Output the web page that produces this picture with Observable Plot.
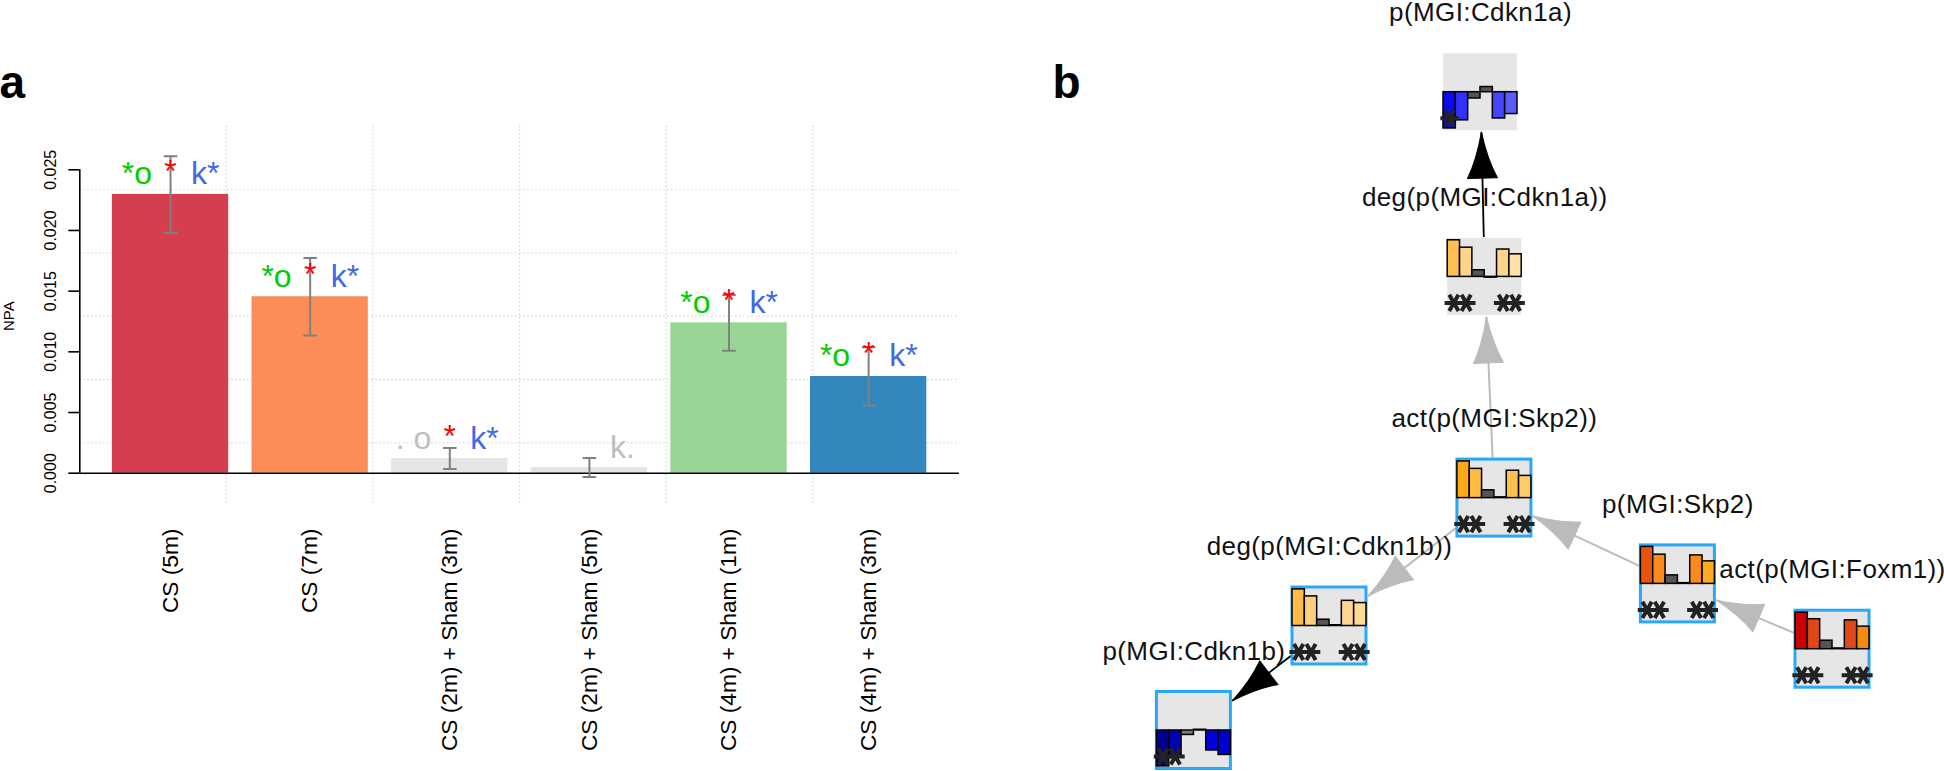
<!DOCTYPE html>
<html><head><meta charset="utf-8">
<script src="https://cdn.jsdelivr.net/npm/d3@7"></script>
<script src="https://cdn.jsdelivr.net/npm/@observablehq/plot@0.6"></script>
<style>
html,body{margin:0;padding:0;background:#fff;}
#wrap{position:relative;width:1944px;height:771px;overflow:hidden;background:#fff;}
#pa{position:absolute;left:0;top:0;width:1000px;height:771px;}
#pb{position:absolute;left:1000px;top:0;width:944px;height:771px;}
svg{max-width:none !important;}
</style></head><body>
<div id="wrap"><div id="pa"></div><div id="pb"></div></div>
<script>
// ================= DATA: panel a =================
const conditions = ["CS (5m)", "CS (7m)", "CS (2m) + Sham (3m)", "CS (2m) + Sham (5m)", "CS (4m) + Sham (1m)", "CS (4m) + Sham (3m)"];
const npa    = [0.02297, 0.01454, 0.00121, 0.00047, 0.01239, 0.00797];
const npaSem = [0.00315, 0.00320, 0.00087, 0.00078, 0.00230, 0.00240];
const oLabels   = ["*o", "*o", ". o", "", "*o", "*o"];
const midLabels = ["*", "*", "*", "", "*", "*"];
const kLabels   = ["k*", "k*", "k*", "k.", "k*", "k*"];
const yTicks = [0, 0.005, 0.010, 0.015, 0.020, 0.025];

// ================= DATA: panel b (graph) =================
const nodeNames = ["p(MGI:Cdkn1a)", "deg(p(MGI:Cdkn1a))", "act(p(MGI:Skp2))", "deg(p(MGI:Cdkn1b))", "p(MGI:Cdkn1b)", "p(MGI:Skp2)", "act(p(MGI:Foxm1))"];
// layout coordinates (graph layout units)
const nodeLX = [4.800, 4.842, 4.939, 3.290, 1.934, 6.774, 8.320];
const nodeLY = [0.917, 2.764, 4.976, 6.255, 7.300, 5.834, 6.487];
const nodeHighlighted = [false, false, true, true, true, true, true];
// per-node values for the six conditions (relative)
const nodeValues = [
  [-0.98, -0.76, -0.17, 0.14, -0.71, -0.59],
  [0.99, 0.79, 0.18, -0.02, 0.74, 0.61],
  [0.99, 0.79, 0.21, 0.02, 0.74, 0.60],
  [0.99, 0.80, 0.17, 0.02, 0.68, 0.62],
  [-0.97, -0.70, -0.12, 0.02, -0.54, -0.66],
  [1.00, 0.79, 0.23, 0.02, 0.77, 0.61],
  [0.99, 0.81, 0.23, 0.02, 0.78, 0.61]
];
const nodeSig = [
  [1, 0, 0, 0, 0, 0],
  [1, 1, 0, 0, 1, 1],
  [1, 1, 0, 0, 1, 1],
  [1, 1, 0, 0, 1, 1],
  [1, 1, 0, 0, 0, 0],
  [1, 1, 0, 0, 1, 1],
  [1, 1, 0, 0, 1, 1]
];
const edgeSource   = ["deg(p(MGI:Cdkn1a))", "act(p(MGI:Skp2))", "act(p(MGI:Skp2))", "deg(p(MGI:Cdkn1b))", "p(MGI:Skp2)", "act(p(MGI:Foxm1))"];
const edgeTarget   = ["p(MGI:Cdkn1a)", "deg(p(MGI:Cdkn1a))", "deg(p(MGI:Cdkn1b))", "p(MGI:Cdkn1b)", "act(p(MGI:Skp2))", "p(MGI:Skp2)"];
const edgeRelation = ["decreases", "increases", "increases", "decreases", "increases", "increases"];

// ================= STYLES =================
const FONT = '"Liberation Sans", Arial, Helvetica, sans-serif';
const barColors = ["#d53e4f", "#fc8d59", "#e5e5e5", "#e5e5e5", "#99d594", "#3288bd"];
const miniColors = [
  ["#0b0bee", "#3030ff", "#555555", "#555555", "#4444ff", "#5b5bff"],
  ["#fdbf50", "#fed38a", "#555555", "#555555", "#fed38a", "#fee0a8"],
  ["#ffa817", "#ffbc40", "#555555", "#555555", "#ffc04e", "#ffcc6c"],
  ["#fdbb46", "#fecf7e", "#555555", "#555555", "#fed58c", "#feda96"],
  ["#000092", "#0000b8", "#7a7a7a", "#555555", "#0000dd", "#0000cc"],
  ["#e8540e", "#fb8c1c", "#555555", "#555555", "#fb8c1c", "#ffab22"],
  ["#cc0000", "#e0481a", "#555555", "#555555", "#e0481a", "#f88a10"]
];
const relColor = {increases: "#bbbbbb", decreases: "#000000"};
const relWidth = {increases: 2, decreases: 1.8};

// ================= PANEL A =================
// R barplot geometry: width 1, space 0.2
const rows = conditions.map((c, i) => ({
  cond: c, i, v: npa[i], sem: npaSem[i],
  x1: 0.2 + 1.2 * i, x2: 1.2 + 1.2 * i, xc: 0.7 + 1.2 * i,
  o: oLabels[i], m: midLabels[i], k: kLabels[i]
}));
const centers = rows.map(d => d.xc);
const xDom = [-0.08, 7.48];
const yDom = [-0.00271, 0.02859];
const gridX = d3.range(1, 6).map(k => xDom[0] + k * (xDom[1] - xDom[0]) / 6);
const gridY = d3.range(1, 6).map(k => yDom[0] + k * (yDom[1] - yDom[0]) / 6);
const lineShape = {draw(ctx, l) { ctx.moveTo(0, 0); ctx.lineTo(0, -l); }};

const plotA = Plot.plot({
  width: 1000, height: 771,
  marginLeft: 79.3, marginRight: 41.1, marginTop: 125.7, marginBottom: 265.4,
  style: {fontFamily: FONT, background: "#fff", overflow: "visible"},
  color: {type: "identity"},
  x: {domain: xDom},
  y: {domain: yDom},
  marks: [
    Plot.ruleX(gridX, {stroke: "#c4c4c4", strokeWidth: 1.2, strokeDasharray: "1,3"}),
    Plot.ruleY(gridY, {stroke: "#c4c4c4", strokeWidth: 1.2, strokeDasharray: "1,3"}),
    Plot.rect(rows, {x1: "x1", x2: "x2", y1: () => 0, y2: "v", fill: d => barColors[d.i]}),
    Plot.ruleY([0], {stroke: "#000", strokeWidth: 1.6}),
    Plot.ruleX([xDom[0]], {y1: () => yTicks[0], y2: () => yTicks[yTicks.length - 1], stroke: "#000", strokeWidth: 1.6}),
    Plot.axisY({ticks: yTicks, anchor: "left", tickSize: 11, tickPadding: 13.3, tickRotate: -90,
      textAnchor: "middle", lineAnchor: "bottom",
      tickFormat: d3.format(".3f"), fontSize: 16, label: null, strokeWidth: 1.6, stroke: "#000", fill: "#000"}),
    Plot.axisX({ticks: centers, anchor: "bottom", tickSize: 0, tickPadding: 22.5, tickRotate: -90,
      textAnchor: "end", lineAnchor: "middle",
      tickFormat: d => conditions[Math.round((d - 0.7) / 1.2)], fontSize: 22.7, label: null, fill: "#000"}),
    Plot.text(["NPA"], {frameAnchor: "left", dx: -70.3, rotate: -90, fontSize: 15, textAnchor: "middle", lineAnchor: "middle", fill: "#000"}),
    // error bars
    Plot.ruleX(rows, {x: "xc", y1: d => d.v - d.sem, y2: d => d.v + d.sem, stroke: "#808080", strokeWidth: 2}),
    Plot.vector(rows, {x: "xc", y: d => d.v - d.sem, rotate: 90, length: 12, anchor: "middle", shape: lineShape, stroke: "#808080", strokeWidth: 2}),
    Plot.vector(rows, {x: "xc", y: d => d.v + d.sem, rotate: 90, length: 12, anchor: "middle", shape: lineShape, stroke: "#808080", strokeWidth: 2}),
    // significance annotations
    Plot.text(rows, {x: "xc", y: "v", text: "o", fill: d => d.o.includes("*") ? "#00cd00" : "#bebebe",
      textAnchor: "end", lineAnchor: "bottom", dx: -18.5, dy: -10, fontSize: 32}),
    Plot.text(rows, {x: "xc", y: "v", text: "m", fill: "#ff0000",
      textAnchor: "middle", lineAnchor: "bottom", dy: -12, fontSize: 32}),
    Plot.text(rows, {x: "xc", y: "v", text: "k", fill: d => d.k.includes("*") ? "#4169e1" : "#bebebe",
      textAnchor: "start", lineAnchor: "bottom", dx: 20.5, dy: -10, fontSize: 32}),
    Plot.text(["a"], {frameAnchor: "top-left", dx: -80.3, dy: -28.7, lineAnchor: "bottom", textAnchor: "start", fontSize: 46, fontWeight: "bold", fill: "#000"})
  ]
});
document.getElementById("pa").appendChild(plotA);

// ================= PANEL B =================
const BW = 0.74, BH = 0.77, HALF = 0.37;
const nodes = nodeNames.map((n, j) => ({name: n, j, x: nodeLX[j], y: nodeLY[j], hl: nodeHighlighted[j]}));
const byName = Object.fromEntries(nodes.map(d => [d.name, d]));
const miniBars = nodes.flatMap((nd, j) => nodeValues[j].map((v, i) => ({
  x1: nd.x - BW / 2 + i * BW / 6, x2: nd.x - BW / 2 + (i + 1) * BW / 6,
  y1: nd.y, y2: nd.y - v * HALF, fill: miniColors[j][i]
})));
const stars = nodes.flatMap((nd, j) => nodeSig[j].flatMap((s, i) => s ? [{
  x: nd.x - BW / 2 + (i + 0.5) * BW / 6, y: nd.y + 0.26
}] : []));
const hw = 0.385, hh = 0.40;
const clipT = (dx, dy) => Math.min(hw / Math.max(Math.abs(dx), 1e-9), hh / Math.max(Math.abs(dy), 1e-9));
const edges = edgeSource.map((s, k) => {
  const a = byName[s], b = byName[edgeTarget[k]];
  const dx = b.x - a.x, dy = b.y - a.y, t = clipT(dx, dy);
  return {
    x1: a.x + dx * t, y1: a.y + dy * t, x2: b.x - dx * t, y2: b.y - dy * t,
    angle: Math.atan2(dx, -dy) * 180 / Math.PI,
    color: relColor[edgeRelation[k]], width: relWidth[edgeRelation[k]]
  };
});
const arrowShape = {draw(ctx, l) {
  ctx.moveTo(0, -l);
  ctx.quadraticCurveTo(5.5, -l + 28, 15, 0);
  ctx.lineTo(-15, 0);
  ctx.quadraticCurveTo(-5.5, -l + 28, 0, -l);
  ctx.closePath();
}};

const plotB = Plot.plot({
  width: 944, height: 771,
  marginLeft: 0, marginRight: 0, marginTop: 0, marginBottom: 0,
  style: {fontFamily: FONT, background: "#fff", overflow: "visible"},
  color: {type: "identity"},
  x: {domain: [0, 9.44], range: [0, 944], axis: null},
  y: {domain: [0, 7.71], range: [0, 771], axis: null},
  marks: [
    Plot.link(edges, {x1: "x1", y1: "y1", x2: "x2", y2: "y2", stroke: "color", strokeWidth: "width"}),
    Plot.rect(nodes, {x1: d => d.x - BW / 2, x2: d => d.x + BW / 2, y1: d => d.y - BH / 2, y2: d => d.y + BH / 2, fill: "#e6e6e6"}),
    Plot.rect(nodes.filter(d => d.hl), {x1: d => d.x - BW / 2, x2: d => d.x + BW / 2, y1: d => d.y - BH / 2, y2: d => d.y + BH / 2, fill: "none", stroke: "#2aa8f6", strokeWidth: 3}),
    Plot.rect(miniBars, {x1: "x1", x2: "x2", y1: "y1", y2: "y2", fill: "fill", stroke: "#000", strokeWidth: 1.5}),
    Plot.dot(stars, {x: "x", y: "y", symbol: "asterisk", r: 8.8, rotate: 90, stroke: "#222", strokeWidth: 4}),
    Plot.vector(edges, {x: "x2", y: "y2", rotate: "angle", length: 46, anchor: "end", shape: arrowShape, fill: "color", stroke: "color", strokeWidth: 1}),
    Plot.text(nodes, {x: "x", y: d => d.y - BH / 2, text: "name", dy: -32.5, lineAnchor: "bottom", fontSize: 26, fill: "#111", className: "nodelabel"}),
    Plot.text(["b"], {frameAnchor: "top-left", dx: 52, dy: 97, lineAnchor: "bottom", textAnchor: "start", fontSize: 46, fontWeight: "bold", fill: "#000"})
  ]
});
document.getElementById("pb").appendChild(plotB);
plotB.querySelectorAll(".nodelabel text").forEach(t => t.style.letterSpacing = "0.4px");
</script>
</body></html>
